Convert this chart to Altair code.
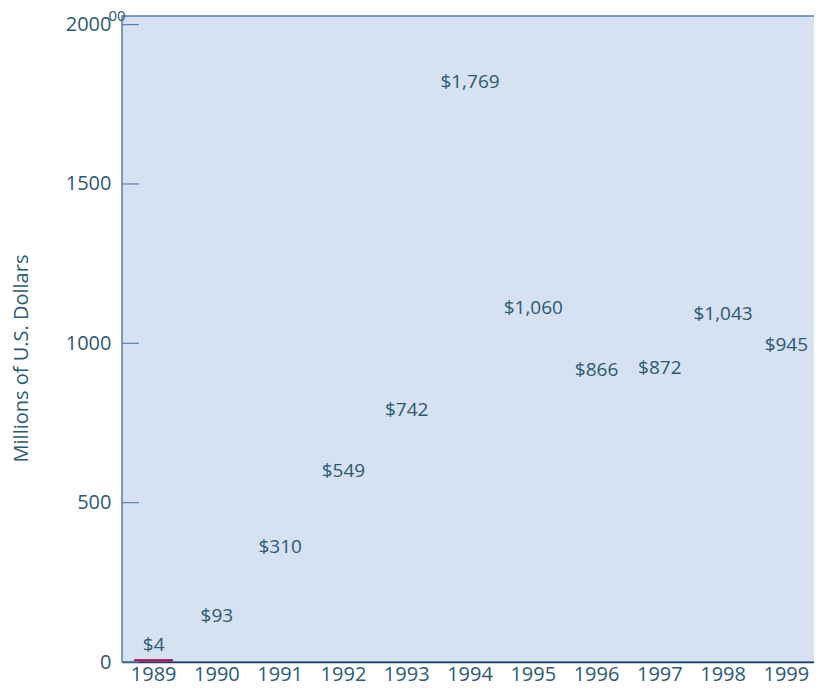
import altair as alt
import pandas as pd

years = ["1989", "1990", "1991", "1992", "1993", "1994", "1995", "1996", "1997", "1998", "1999"]
values = [4, 93, 310, 549, 742, 1769, 1060, 866, 872, 1043, 945]
labels = ["$4", "$93", "$310", "$549", "$742", "$1,769", "$1,060", "$866", "$872", "$1,043", "$945"]
y_ticks = [0, 500, 1000, 1500, 2000]

df = pd.DataFrame({"year": years, "value": values, "label": labels})
ticks_df = pd.DataFrame({"t": y_ticks})

TEXT = "#2b5a73"
FONT = "Open Sans"
BG = "#d6e1f1"

x_enc = alt.X("year:N", sort=years, title=None,
              scale=alt.Scale(paddingInner=0.4, paddingOuter=0.2),
              axis=alt.Axis(labelAngle=0, ticks=False, labelFontSize=20, labelFont=FONT,
                            labelColor=TEXT, labelPadding=2, domainColor="#1d3b66",
                            domainWidth=1.5))
y_scale = alt.Scale(domain=[0, 2027], nice=False)
y_enc = alt.Y("value:Q", scale=y_scale, title="Millions of U.S. Dollars",
              axis=alt.Axis(values=y_ticks, format="d", tickSize=0, grid=False, labelFontSize=20,
                            labelFont=FONT, labelColor=TEXT, labelPadding=11,
                            domain=False, titleFont=FONT, titleFontSize=20,
                            titleFontWeight="normal", titleColor=TEXT, titlePadding=34,
                            titleY=342, titleAlign="center"))

bars = alt.Chart(df).mark_bar(color="#a3134f", stroke="#a3134f", strokeWidth=1, yOffset=-1).encode(
    x=x_enc,
    y=y_enc,
    opacity=alt.condition("datum.value < 50", alt.value(1), alt.value(0)),
)

text = alt.Chart(df).mark_text(dy=-16, baseline="middle", align="center",
                               fontSize=19, font=FONT, color=TEXT).encode(
    x=alt.X("year:N", sort=years),
    y=alt.Y("value:Q", scale=y_scale),
    text="label:N",
)

tick_rules = alt.Chart(ticks_df).mark_rule(color="#5a7fb0", strokeWidth=1.2).encode(
    y=alt.Y("t:Q", scale=y_scale),
    x=alt.value(0),
    x2=alt.value(17),
)

artifact = alt.Chart(pd.DataFrame({"s": ["00"]})).mark_text(
    fontSize=15, font=FONT, color=TEXT, align="center", baseline="middle").encode(
    text="s:N", x=alt.value(-5), y=alt.value(0))

chart = alt.layer(bars, text, tick_rules, artifact).properties(
    width=696, height=646,
    background="white",
    autosize=alt.AutoSizeParams(type="none"),
    padding={"left": 114, "top": 8, "right": -4, "bottom": 24},
).configure_view(fill=BG, stroke="#5a7fb0", strokeWidth=1.5)

chart.save("out.html", embed_options={"renderer": "svg", "actions": False})
